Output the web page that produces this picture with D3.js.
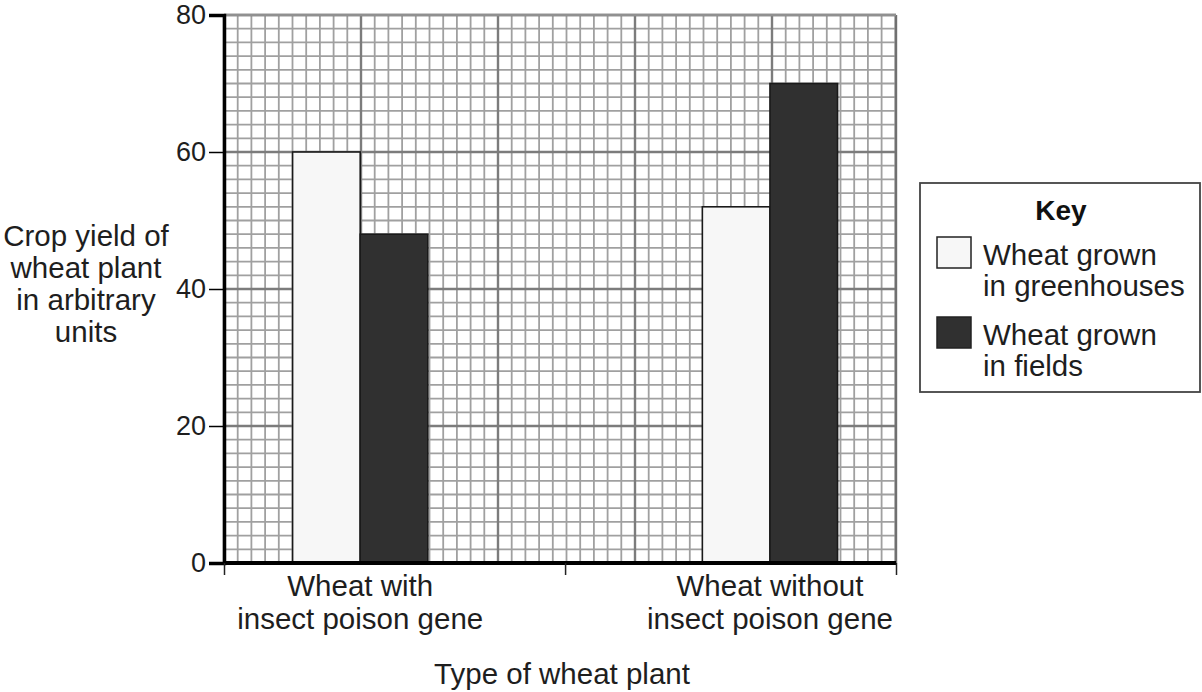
<!DOCTYPE html>
<html>
<head>
<meta charset="utf-8">
<script src="https://cdn.jsdelivr.net/npm/d3@7"></script>
<style>
  html, body { margin: 0; padding: 0; background: #fff; }
  svg { display: block; font-family: "Liberation Sans", Arial, Helvetica, sans-serif; }
</style>
</head>
<body>
<svg id="chart" width="1202" height="692"></svg>
<script>
// ---- data ----
const categories = ["Wheat with insect poison gene", "Wheat without insect poison gene"];
const categoryLines = [["Wheat with", "insect poison gene"], ["Wheat without", "insect poison gene"]];
const seriesNames = ["Wheat grown in greenhouses", "Wheat grown in fields"];
const seriesLines = [["Wheat grown", "in greenhouses"], ["Wheat grown", "in fields"]];
const greenhouseValues = [60, 52];
const fieldValues = [48, 70];
const yTickValues = [0, 20, 40, 60, 80];
const yTitleLines = ["Crop yield of", "wheat plant", "in arbitrary", "units"];
const xTitle = "Type of wheat plant";
const legendTitle = "Key";

// ---- layout ----
const svg = d3.select("#chart");
const plotL = 224, plotR = 896, plotT = 15, plotB = 563;
const seriesColors = ["#f7f7f7", "#303030"];
const textColor = "#1e1e1e";

const y = d3.scaleLinear().domain([0, 80]).range([plotB, plotT]);
const x0 = d3.scaleBand().domain(categories).range([plotL, plotR])
  .paddingInner(0.67).paddingOuter(0.155).align(0.54);
const x1 = d3.scaleBand().domain(seriesNames).range([0, x0.bandwidth()]);

// ---- grid (square cells of 2 units) ----
const cell = y(0) - y(2);
const grid = svg.append("g");
const nx = Math.floor((plotR - plotL) / cell + 0.01);
const xs = d3.range(0, nx + 1).map(i => ({ px: plotL + i * cell, major: i % 10 === 0 }));
const ys = d3.range(0, 41).map(i => ({ py: y(i * 2), major: i % 10 === 0 }));
grid.selectAll("line.gx").data(xs.filter(d => !d.major)).join("line")
  .attr("x1", d => d.px).attr("x2", d => d.px).attr("y1", plotT).attr("y2", plotB)
  .attr("stroke", "#a0a0a0").attr("stroke-width", 1.8);
grid.selectAll("line.gy").data(ys.filter(d => !d.major)).join("line")
  .attr("y1", d => d.py).attr("y2", d => d.py).attr("x1", plotL).attr("x2", plotR)
  .attr("stroke", "#a0a0a0").attr("stroke-width", 1.8);
grid.selectAll("line.mx").data(xs.filter(d => d.major)).join("line")
  .attr("x1", d => d.px).attr("x2", d => d.px).attr("y1", plotT).attr("y2", plotB)
  .attr("stroke", "#7c7c7c").attr("stroke-width", 2.4);
grid.selectAll("line.my").data(ys.filter(d => d.major)).join("line")
  .attr("y1", d => d.py).attr("y2", d => d.py).attr("x1", plotL).attr("x2", plotR)
  .attr("stroke", "#7c7c7c").attr("stroke-width", 2.4);
// frame right & top
grid.append("line").attr("x1", plotR).attr("x2", plotR).attr("y1", plotT).attr("y2", plotB)
  .attr("stroke", "#707070").attr("stroke-width", 2.4);
grid.append("line").attr("x1", plotL).attr("x2", plotR).attr("y1", plotT).attr("y2", plotT)
  .attr("stroke", "#909090").attr("stroke-width", 2.4);

// ---- bars ----
const rows = categories.map((c, i) => ({ cat: c, vals: [greenhouseValues[i], fieldValues[i]] }));
const g = svg.append("g");
g.selectAll("g.cat").data(rows).join("g")
  .attr("transform", d => `translate(${x0(d.cat)},0)`)
  .selectAll("rect").data(d => d.vals.map((v, j) => ({ s: seriesNames[j], v, j })))
  .join("rect")
  .attr("x", d => x1(d.s)).attr("width", x1.bandwidth())
  .attr("y", d => y(d.v)).attr("height", d => y(0) - y(d.v))
  .attr("fill", d => seriesColors[d.j]).attr("stroke", "#1a1a1a").attr("stroke-width", 1.6);

// ---- axes ----
const yAxis = svg.append("g").attr("transform", `translate(${plotL},0)`)
  .call(d3.axisLeft(y).tickValues(yTickValues).tickSize(15).tickPadding(3));
yAxis.select(".domain").attr("stroke", "#000").attr("stroke-width", 3.5);
yAxis.selectAll(".tick line").attr("stroke", "#000").attr("stroke-width", 1.5);
yAxis.selectAll(".tick text").attr("font-size", 27).attr("fill", textColor)
  .attr("font-family", "Liberation Sans, Arial, sans-serif");

const xTickPositions = [plotL, (x0(categories[0]) + x0.bandwidth() + x0(categories[1])) / 2, plotR];
const xAxisScale = d3.scaleLinear().domain([plotL, plotR]).range([plotL, plotR]);
const xAxis = svg.append("g").attr("transform", `translate(0,${plotB})`)
  .call(d3.axisBottom(xAxisScale).tickValues(xTickPositions).tickSize(12).tickFormat(""));
xAxis.select(".domain").attr("d", `M${plotL},0H${plotR}`).attr("stroke", "#000").attr("stroke-width", 4);
xAxis.selectAll(".tick line").attr("stroke", "#222").attr("stroke-width", 1.5);

// category labels
const catLabels = svg.append("g").attr("font-size", 29.5).attr("fill", textColor).attr("text-anchor", "middle");
categories.forEach((c, i) => {
  const cx = x0(c) + x0.bandwidth() / 2;
  categoryLines[i].forEach((line, k) => {
    catLabels.append("text").attr("x", cx).attr("y", 596 + k * 33).text(line);
  });
});

// x title
svg.append("text").attr("x", 562).attr("y", 684).attr("text-anchor", "middle")
  .attr("font-size", 29.5).attr("fill", textColor).text(xTitle);

// y title
const yt = svg.append("g").attr("font-size", 29.5).attr("fill", textColor).attr("text-anchor", "middle");
yTitleLines.forEach((line, k) => {
  yt.append("text").attr("x", 86).attr("y", 246 + k * 32).text(line);
});

// ---- legend ----
const lg = svg.append("g");
lg.append("rect").attr("x", 920).attr("y", 183).attr("width", 280).attr("height", 209)
  .attr("fill", "#fff").attr("stroke", "#444").attr("stroke-width", 1.8);
lg.append("text").attr("x", 1061).attr("y", 220).attr("text-anchor", "middle")
  .attr("font-size", 28).attr("font-weight", "bold").attr("fill", "#111").text(legendTitle);
seriesNames.forEach((s, j) => {
  const oy = 237 + j * 80;
  lg.append("rect").attr("x", 937).attr("y", oy).attr("width", 34).attr("height", 31)
    .attr("fill", seriesColors[j]).attr("stroke", "#222").attr("stroke-width", 1.5);
  seriesLines[j].forEach((line, k) => {
    lg.append("text").attr("x", 983).attr("y", oy + 28 + k * 31)
      .attr("font-size", 29.5).attr("fill", textColor).text(line);
  });
});
</script>
</body>
</html>
